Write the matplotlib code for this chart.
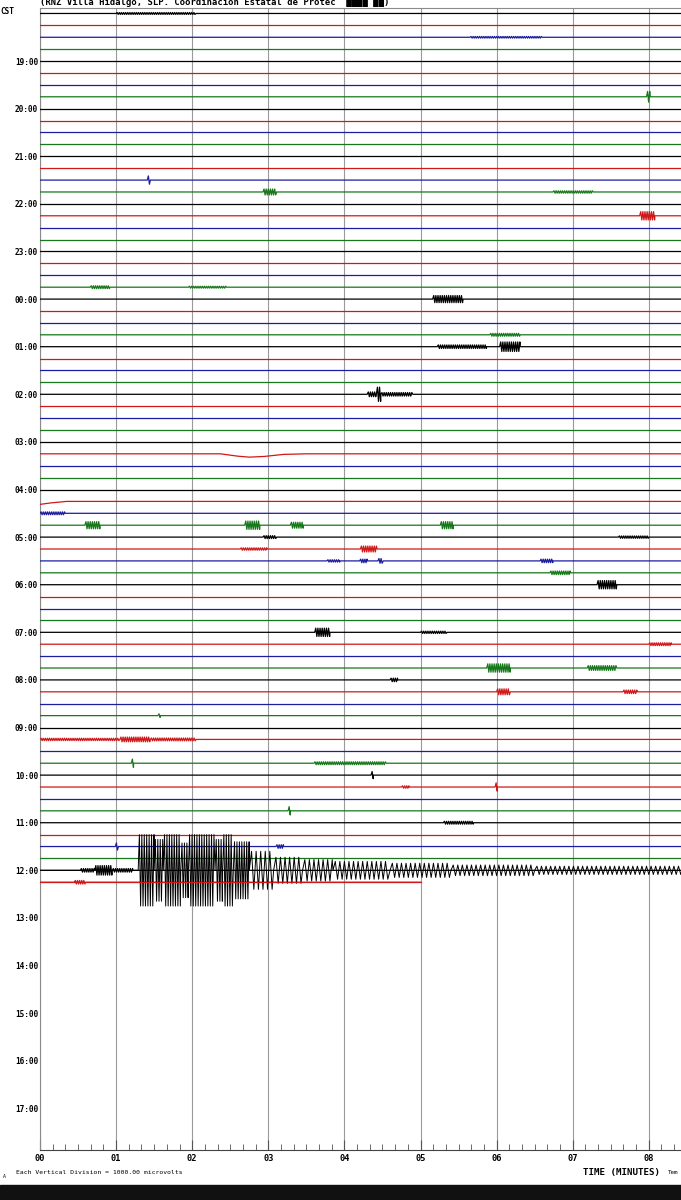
import matplotlib
matplotlib.use("Agg")
import matplotlib.pyplot as plt
from matplotlib.patches import Rectangle

# helicorder: one row every 15 minutes, first row 18:00 (CST) down to 12:15
n_rows = 74
row_colors = ["#000000", "#d01818", "#1c1ca0", "#16781a"]

hour_labels = ["19:00", "20:00", "21:00", "22:00", "23:00",
               "00:00", "01:00", "02:00", "03:00", "04:00", "05:00",
               "06:00", "07:00", "08:00", "09:00", "10:00", "11:00",
               "12:00", "13:00", "14:00", "15:00", "16:00", "17:00"]
hour_rows = list(range(4, 93, 4))
minute_labels = ["00", "01", "02", "03", "04", "05", "06", "07", "08"]

# small bursts: (row, start min, end min, amplitude in rows)
events = [
    (0, 1.00, 2.05, 0.08), (2, 5.65, 6.60, 0.07), (7, 7.97, 8.02, 0.45),
    (14, 1.41, 1.45, 0.35), (15, 2.93, 3.11, 0.25), (15, 6.74, 7.27, 0.10),
    (17, 7.88, 8.08, 0.35), (23, 0.66, 0.92, 0.12), (23, 1.95, 2.45, 0.08),
    (24, 5.16, 5.56, 0.30), (27, 5.91, 6.31, 0.12), (28, 5.22, 5.87, 0.15),
    (28, 6.04, 6.31, 0.40), (32, 4.30, 4.42, 0.20), (32, 4.42, 4.48, 0.60),
    (32, 4.48, 4.90, 0.15), (42, 0.00, 0.33, 0.12), (43, 0.59, 0.79, 0.30),
    (43, 2.69, 2.89, 0.35), (43, 3.29, 3.46, 0.25), (43, 5.26, 5.43, 0.30),
    (44, 2.93, 3.11, 0.12), (44, 7.60, 8.00, 0.10), (45, 2.63, 2.98, 0.10),
    (45, 4.21, 4.43, 0.25), (46, 3.77, 3.94, 0.10), (46, 4.20, 4.30, 0.15),
    (46, 4.44, 4.51, 0.20), (46, 6.57, 6.74, 0.15), (47, 6.70, 6.97, 0.15),
    (48, 7.32, 7.58, 0.35), (52, 3.61, 3.81, 0.35), (52, 5.00, 5.35, 0.10),
    (53, 8.00, 8.30, 0.12), (55, 5.87, 6.18, 0.35), (55, 7.19, 7.58, 0.20),
    (56, 4.60, 4.70, 0.15), (57, 6.00, 6.18, 0.25), (57, 7.66, 7.85, 0.15),
    (59, 1.55, 1.58, 0.15), (61, 0.00, 1.05, 0.10), (61, 1.05, 1.45, 0.20),
    (61, 1.45, 2.05, 0.12), (63, 1.20, 1.23, 0.35), (63, 3.60, 4.55, 0.12),
    (64, 4.35, 4.38, 0.30), (65, 4.75, 4.85, 0.10), (65, 5.98, 6.01, 0.35),
    (67, 3.26, 3.29, 0.35), (68, 5.30, 5.70, 0.12), (70, 0.99, 1.03, 0.30),
    (70, 3.10, 3.20, 0.15), (72, 0.53, 0.72, 0.15), (72, 0.72, 0.95, 0.40),
    (72, 0.95, 1.22, 0.15), (73, 0.45, 0.60, 0.15),
]

# the earthquake on the 12:00 row: (start min, end min, amplitude in rows)
quake = [
    (1.29, 1.50, 3.0), (1.50, 1.62, 2.6), (1.62, 1.85, 3.0), (1.85, 1.95, 2.3),
    (1.95, 2.30, 3.0), (2.30, 2.40, 2.6), (2.40, 2.54, 3.0), (2.54, 2.75, 2.4),
    (2.75, 3.07, 1.6), (3.07, 3.45, 1.1), (3.45, 3.85, 0.9), (3.85, 4.60, 0.75),
    (4.60, 5.40, 0.6), (5.40, 6.50, 0.45), (6.50, 8.60, 0.35),
]

# slow drifts of the baseline: (minute, offset in rows)
drifts = {
    37: [(0, 0), (2.37, 0), (2.6, -0.2), (2.75, -0.28), (2.95, -0.22), (3.2, -0.05), (3.5, 0), (8.6, 0)],
    41: [(0, -0.25), (0.15, -0.12), (0.35, 0), (8.6, 0)],
}
row_end = {73: 5.0}

x_end = 8.6


def trace(evs, end, fine=0.014, coarse=0.014):
    xs, ys = [0.0], [0.0]
    for t0, t1, amp in sorted(evs):
        step = fine if amp >= 2.0 else coarse
        xs.append(t0); ys.append(0.0)
        t, s = t0 + step, 1
        while t < t1:
            xs.append(t); ys.append(s * amp)
            s = -s
            t += step
        xs.append(t1); ys.append(0.0)
    xs.append(end); ys.append(0.0)
    return xs, ys


fig = plt.figure(figsize=(6.81, 12), dpi=100)
ax = fig.add_axes([40 / 681, 50 / 1200, 1 - 40 / 681, 1142 / 1200])

for m in range(0, 9):
    ax.axvline(m, color="#9a9a9a", lw=0.8, zorder=1)

for r in range(n_rows):
    c = row_colors[r % 4]
    if r in drifts:
        xs = [p[0] for p in drifts[r]]
        ys = [p[1] for p in drifts[r]]
    else:
        evs = [(e[1], e[2], e[3]) for e in events if e[0] == r]
        xs, ys = trace(evs, row_end.get(r, x_end))
    ax.plot(xs, [-r + y for y in ys], color=c, lw=0.9, zorder=3)

# saturated strokes packed tight, coda looser
qx, qy = trace(quake, x_end, fine=0.016, coarse=0.03)
ax.plot(qx, [-72 + y for y in qy], color="#000000", lw=0.7, zorder=4)
# red row over the quake
ax.plot([0, row_end[73]], [-73, -73], color=row_colors[1], lw=0.9, zorder=5)

ax.set_xlim(0, (681 - 40) / 76.1)
ax.set_ylim(-95.5, 0.46)

ax.set_yticks([-r for r in hour_rows])
ax.set_yticklabels(hour_labels, fontfamily="DejaVu Sans Mono",
                   fontweight="bold", fontsize=5.6)
ax.tick_params(axis="y", length=0, pad=1.5)

ax.set_xticks(range(9))
ax.set_xticklabels(minute_labels, fontfamily="DejaVu Sans Mono",
                   fontweight="bold", fontsize=6.2)
ax.set_xticks([m / 6 for m in range(0, 51)], minor=True)
ax.tick_params(axis="x", which="major", direction="in", length=7, pad=3,
               color="#555555")
ax.tick_params(axis="x", which="minor", direction="in", length=4,
               color="#555555")

for s in ["left", "top"]:
    ax.spines[s].set_color("#8a8a8a")
ax.spines["bottom"].set_color("#444444")
ax.spines["right"].set_visible(False)

mono = "DejaVu Sans Mono"
fig.text(0.0, 1 - 12 / 1200, "CST", fontfamily=mono, fontweight="bold",
         fontsize=5.6, va="center", ha="left")
fig.text(40 / 681, 1 - 7 / 1200,
         "(RNZ Villa Hidalgo, SLP. Coordinacion Estatal de Protec  \u2588\u2588\u2588\u2588 \u2588\u2588)",
         fontfamily=mono, fontweight="bold", fontsize=6.4, va="bottom", ha="left")
fig.text(3 / 681, 1 - 1176 / 1200, "A", fontfamily=mono, fontsize=3.5,
         va="center", ha="left")
fig.text(16 / 681, 1 - 1173 / 1200,
         "Each Vertical Division = 1000.00 microvolts",
         fontfamily=mono, fontsize=4.6, va="center", ha="left")
fig.text(583 / 681, 1 - 1173 / 1200, "TIME (MINUTES)", fontfamily=mono,
         fontweight="bold", fontsize=6.6, va="center", ha="left")
fig.text(668 / 681, 1 - 1173 / 1200, "Tem", fontfamily=mono, fontsize=4.2,
         va="center", ha="left")

fig.patches.append(Rectangle((0, 0), 1, 15 / 1200, transform=fig.transFigure,
                             color="#111111", zorder=0))

fig.savefig("out.png", dpi=100)
